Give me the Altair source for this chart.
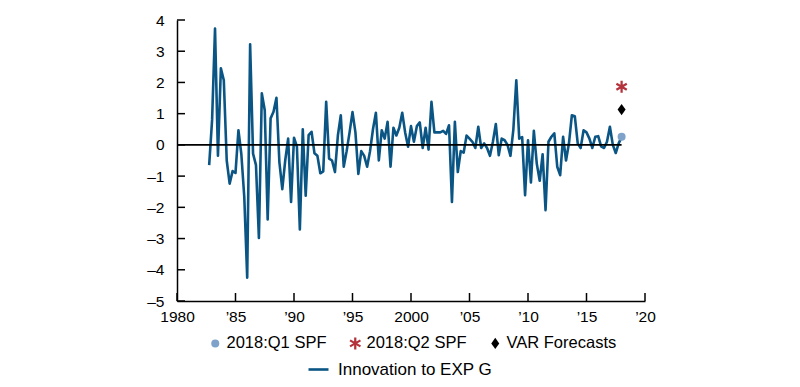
import math
import altair as alt
import pandas as pd

# ---------------- data ----------------
START = 1982.75  # first quarter shown (1982:Q4)
INNOVATION = [
    -0.65,                          # 1982Q4
    0.80, 3.73, -0.35, 2.45,        # 1983
    2.07, -0.50, -1.24, -0.84,      # 1984
    -0.90, 0.47, -0.30, -1.67,      # 1985
    -4.25, 3.22, -0.28, -0.65,      # 1986
    -2.98, 1.65, 1.11, -2.39,       # 1987
    0.85, 1.06, 1.51, -0.55,        # 1988
    -1.42, -0.50, 0.20, -1.83,      # 1989
    0.23, -0.06, -2.71, 0.50,       # 1990
    -1.63, 0.31, 0.42, -0.27,       # 1991
    -0.35, -0.91, -0.85, 1.38,      # 1992
    -0.44, -0.50, -0.87, 0.30,      # 1993
    0.95, -0.70, -0.20, 0.40,       # 1994
    1.05, 0.40, -0.93, -0.20,       # 1995
    -0.35, -0.70, -0.20, 0.50,      # 1996
    1.03, -0.50, 0.47, 0.20,        # 1997
    0.74, -0.70, 0.55, 0.30,        # 1998
    0.55, 1.03, 0.40, -0.06,        # 1999
    0.60, 0.10, 0.60, 0.72,         # 2000
    -0.10, 0.55, -0.15, 1.38,       # 2001
    0.40, 0.40, 0.40, 0.45,         # 2002
    0.35, 0.63, -1.83, 0.74,        # 2003
    -0.87, -0.20, -0.25, 0.30,      # 2004
    0.20, 0.10, -0.10, 0.58,        # 2005
    -0.10, 0.05, -0.10, -0.35,      # 2006
    0.10, 0.67, -0.33, 0.20,        # 2007
    0.15, 0.00, -0.35, 0.50,        # 2008
    2.07, 0.20, 0.25, -1.61,        # 2009
    0.15, -1.20, 0.45, -0.60,       # 2010
    -1.15, -0.30, -2.09, 0.10,      # 2011
    0.26, 0.37, -0.70, -0.97,       # 2012
    0.26, -0.50, 0.05, 0.95,        # 2013
    0.92, 0.05, -0.10, 0.47,        # 2014
    0.40, 0.20, -0.10, 0.26,        # 2015
    0.28, -0.05, -0.10, 0.10,       # 2016
    0.58, 0.00, -0.26, 0.05,        # 2017
    0.25,                           # 2018Q1
]
LINE_LABEL = "Innovation to EXP G"

MARKER_LABELS = ["2018:Q1 SPF", "2018:Q2 SPF", "VAR Forecasts"]
MARKER_X = [2018.0, 2018.0, 2018.0]
MARKER_Y = [0.26, 1.86, 1.13]

ZERO_X = [1980, 2018]

X_TICKS = [1980, 1985, 1990, 1995, 2000, 2005, 2010, 2015, 2020]
X_TICK_LABELS = ["1980", "\u201985", "\u201990", "\u201995", "2000",
                 "\u201905", "\u201910", "\u201915", "\u201920"]
Y_TICKS = [-5, -4, -3, -2, -1, 0, 1, 2, 3, 4]
Y_TICK_LABELS = ["\u20135", "\u20134", "\u20133", "\u20132", "\u20131",
                 "0", "1", "2", "3", "4"]

# ---------------- style ----------------
BLUE = "#0b5585"
LIGHT_BLUE = "#7fa2cb"
RED = "#b3323b"
FONT = "Liberation Sans"
W, H = 468, 281


def label_expr(vals, labels):
    expr = "''"
    for v, l in reversed(list(zip(vals, labels))):
        expr = f"datum.value == {v} ? '{l}' : ({expr})"
    return expr


def bar_path(angle, length=1.5, half=0.28):
    c, s = math.cos(math.radians(angle)), math.sin(math.radians(angle))
    pts = [(-half, -length), (half, -length), (half, length), (-half, length)]
    rp = [(x * c - y * s, x * s + y * c) for x, y in pts]
    return "M" + "L".join(f"{x:.3f},{y:.3f}" for x, y in rp) + "Z"


ASTERISK = bar_path(0) + bar_path(60) + bar_path(-60)
DIAMOND = "M0,-1.4L1,0L0,1.4L-1,0Z"

# ---------------- frames ----------------
df = pd.DataFrame({
    "t": [START + 0.25 * i for i in range(len(INNOVATION))],
    "v": INNOVATION,
    "series": LINE_LABEL,
})
mdf = pd.DataFrame({"t": MARKER_X, "v": MARKER_Y, "label": MARKER_LABELS})
zdf = pd.DataFrame({"t": [ZERO_X[0]], "t2": [ZERO_X[1]], "v": [0]})
xt = pd.DataFrame({"t": X_TICKS})
yt = pd.DataFrame({"v": Y_TICKS})

xscale = alt.Scale(domain=[1980, 2020], nice=False, zero=False)
yscale = alt.Scale(domain=[-5, 4], nice=False, zero=False)

xaxis = alt.Axis(values=X_TICKS, labelExpr=label_expr(X_TICKS, X_TICK_LABELS),
                 title=None, grid=False, ticks=False, tickSize=0,
                 labelPadding=8, labelFontSize=15.5, labelFont=FONT,
                 labelColor="black", domainColor="black", domainWidth=1.5,
                 labelFlush=False, labelOverlap=False)
yaxis = alt.Axis(values=Y_TICKS, labelExpr=label_expr(Y_TICKS, Y_TICK_LABELS),
                 title=None, grid=False, ticks=False, tickSize=0,
                 labelPadding=13, labelFontSize=15.5, labelFont=FONT,
                 labelColor="black", domainColor="black", domainWidth=1.5,
                 labelOverlap=False)

X = alt.X("t:Q", scale=xscale, axis=xaxis)
Y = alt.Y("v:Q", scale=yscale, axis=yaxis)

line = alt.Chart(df).mark_line(strokeWidth=2.6, strokeJoin="round").encode(
    x=X, y=Y,
    color=alt.Color("series:N",
                    scale=alt.Scale(domain=[LINE_LABEL], range=[BLUE]),
                    legend=alt.Legend(title=None, orient="none",
                                      legendX=130, legendY=338,
                                      symbolType="stroke", symbolSize=400,
                                      symbolStrokeWidth=2.6,
                                      labelFont=FONT, labelFontSize=17,
                                      labelColor="black", labelOffset=8)),
)

zero = alt.Chart(zdf).mark_rule(color="black", strokeWidth=1.6).encode(
    x=X, x2="t2:Q", y=Y,
)

ytick = alt.Chart(yt).mark_rule(color="black", strokeWidth=1.5).encode(
    y=Y, x=alt.value(0), x2=alt.value(8),
)
xtick = alt.Chart(xt).mark_rule(color="black", strokeWidth=1.5).encode(
    x=X, y=alt.value(H), y2=alt.value(H - 8),
)

leg = dict(title=None, orient="none", legendX=30, legendY=315,
           direction="horizontal", labelFont=FONT, labelFontSize=16.5,
           labelColor="black", symbolSize=64, labelOffset=3,
           columnPadding=20, symbolStrokeWidth=0)

pts = alt.Chart(mdf).mark_point(filled=True, opacity=1, size=64).encode(
    x=X, y=Y,
    color=alt.Color("label:N",
                    scale=alt.Scale(domain=MARKER_LABELS,
                                    range=[LIGHT_BLUE, RED, "black"]),
                    legend=alt.Legend(**leg)),
    shape=alt.Shape("label:N",
                    scale=alt.Scale(domain=MARKER_LABELS,
                                    range=["circle", ASTERISK, DIAMOND]),
                    legend=alt.Legend(**leg)),
)

chart = alt.layer(line, zero, ytick, xtick, pts).resolve_scale(
    color="independent", shape="independent"
).properties(
    width=W, height=H,
    autosize=alt.AutoSizeParams(type="none"),
    padding={"left": 169, "top": 12, "right": 100, "bottom": 78},
    background="white",
).configure_view(stroke=None)

chart.save("out.html", embed_options={"renderer": "svg", "actions": False})
